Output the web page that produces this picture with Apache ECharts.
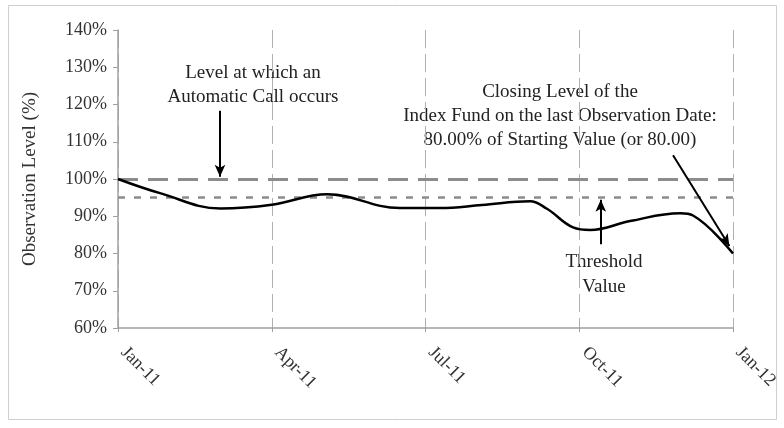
<!DOCTYPE html>
<html>
<head>
<meta charset="utf-8">
<script src="https://cdn.jsdelivr.net/npm/echarts@6/dist/echarts.min.js"></script>
<style>
  html, body { margin: 0; padding: 0; background: #fff; }
  #main { width: 784px; height: 428px; }
</style>
</head>
<body>
<div id="main"></div>
<script>
// months since Jan-11
var months = [0, 0.82, 2.0, 3.0, 4.08, 5.5, 6.28, 7.1, 8.04, 8.37, 8.88, 9.21, 9.99, 10.97, 11.22, 12];
var levels = [100, 96.2, 92.1, 93.1, 95.9, 92.2, 92.2, 93.0, 94.0, 92.0, 87.0, 86.3, 88.7, 90.8, 90.2, 80];
var tickLabels = ['Jan-11', 'Apr-11', 'Jul-11', 'Oct-11', 'Jan-12'];
var callLevel = 100;
var thresholdLevel = 95;

var serif = '"Liberation Serif", "DejaVu Serif", serif';

var chart = echarts.init(document.getElementById('main'));

var points = [];
for (var i = 0; i < months.length; i++) {
  points.push([months[i], levels[i]]);
}

var arrowStyle = { color: '#000', width: 2, type: 'solid' };

var option = {
  animation: false,
  grid: { left: 118, right: 51, top: 30, bottom: 100 },
  xAxis: {
    type: 'value',
    min: 0,
    max: 12,
    interval: 3,
    axisLine: { show: true, lineStyle: { color: '#a0a0a0', width: 1.5 } },
    axisTick: { show: true, length: 4, lineStyle: { color: '#a0a0a0' } },
    axisLabel: {
      rotate: -45,
      margin: 16,
      padding: [0, 0, 0, 8],
      color: '#333',
      fontFamily: serif,
      fontSize: 18,
      formatter: function (v) { return tickLabels[v / 3]; }
    },
    splitLine: { show: true, lineStyle: { color: '#b0b0b0', width: 1, type: [18, 6] } }
  },
  yAxis: {
    type: 'value',
    min: 60,
    max: 140,
    interval: 10,
    name: 'Observation Level (%)',
    nameLocation: 'middle',
    nameRotate: 90,
    nameGap: 78,
    nameTextStyle: { color: '#333', fontFamily: serif, fontSize: 19 },
    axisLine: { show: true, lineStyle: { color: '#a0a0a0', width: 1.5 } },
    axisTick: { show: true, inside: false, length: 5, lineStyle: { color: '#a0a0a0' } },
    axisLabel: {
      margin: 11,
      color: '#333',
      fontFamily: serif,
      fontSize: 18,
      formatter: function (v) { return v + '%'; }
    },
    splitLine: { show: false }
  },
  series: [
    {
      type: 'line',
      data: points,
      smooth: 0.4,
      showSymbol: false,
      lineStyle: { color: '#000', width: 2.5 },
      z: 5,
      markLine: {
        silent: true,
        symbol: ['none', 'none'],
        label: { show: false },
        data: [
          { yAxis: callLevel, lineStyle: { color: '#8c8c8c', width: 3, type: [20, 10] } },
          { yAxis: thresholdLevel, lineStyle: { color: '#8c8c8c', width: 2.5, type: [7, 9] } },
          [
            { coord: [1.99, 118.3], symbol: 'none', lineStyle: arrowStyle },
            { coord: [1.99, 100.6], symbol: 'arrow', symbolSize: [8, 12] }
          ],
          [
            { coord: [9.42, 82.5], symbol: 'none', lineStyle: arrowStyle },
            { coord: [9.42, 94.4], symbol: 'arrow', symbolSize: [8, 12] }
          ],
          [
            { coord: [10.83, 106.4], symbol: 'none', lineStyle: arrowStyle },
            { coord: [11.93, 82.0], symbol: 'arrow', symbolSize: [8, 12] }
          ]
        ]
      }
    }
  ],
  graphic: [
    {
      type: 'rect',
      shape: { x: 8.5, y: 5.5, width: 768, height: 414 },
      style: { fill: 'none', stroke: '#cfcfcf', lineWidth: 1 },
      silent: true
    },
    {
      type: 'text',
      style: {
        text: 'Level at which an\nAutomatic Call occurs',
        x: 253, y: 85,
        textAlign: 'center', textVerticalAlign: 'middle',
        font: '19px ' + serif, fill: '#222', lineHeight: 24
      }
    },
    {
      type: 'text',
      style: {
        text: 'Closing Level of the\nIndex Fund on the last Observation Date:\n80.00% of Starting Value (or 80.00)',
        x: 560, y: 116,
        textAlign: 'center', textVerticalAlign: 'middle',
        font: '19px ' + serif, fill: '#222', lineHeight: 24
      }
    },
    {
      type: 'text',
      style: {
        text: 'Threshold\nValue',
        x: 604, y: 275,
        textAlign: 'center', textVerticalAlign: 'middle',
        font: '19px ' + serif, fill: '#222', lineHeight: 25
      }
    }
  ]
};

chart.setOption(option);
</script>
</body>
</html>
